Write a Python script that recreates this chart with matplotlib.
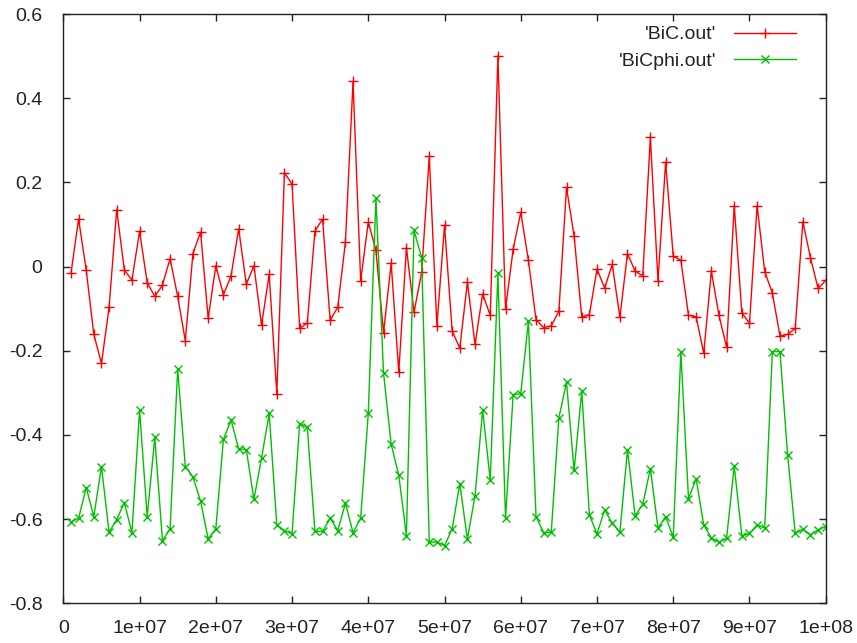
import matplotlib
matplotlib.use('Agg')
import matplotlib.pyplot as plt
import numpy as np

plt.rcParams['font.family'] = ['Liberation Sans', 'DejaVu Sans']

# one sample every 1e6, from 1e6 to 1e8
x = np.arange(1, 101) * 1e6

bic = [-0.016, 0.113, -0.008, -0.161, -0.230, -0.097, 0.135, -0.008, -0.032, 0.084,
       -0.038, -0.071, -0.044, 0.019, -0.071, -0.176, 0.031, 0.082, -0.123, 0.002,
       -0.067, -0.022, 0.090, -0.042, 0.002, -0.139, -0.018, -0.302, 0.223, 0.196,
       -0.147, -0.134, 0.084, 0.113, -0.128, -0.096, 0.058, 0.440, -0.034, 0.106,
       0.039, -0.157, 0.008, -0.251, 0.045, -0.108, -0.014, 0.262, -0.141, 0.098,
       -0.153, -0.194, -0.037, -0.185, -0.065, -0.116, 0.501, -0.101, 0.041, 0.129,
       0.015, -0.126, -0.145, -0.141, -0.106, 0.188, 0.072, -0.120, -0.114, -0.006,
       -0.051, 0.005, -0.120, 0.031, -0.011, -0.022, 0.307, -0.034, 0.248, 0.025,
       0.015, -0.116, -0.119, -0.206, -0.011, -0.116, -0.192, 0.145, -0.110, -0.135,
       0.145, -0.012, -0.063, -0.165, -0.161, -0.147, 0.106, 0.021, -0.052, -0.033]

bicphi = [-0.606, -0.598, -0.525, -0.594, -0.475, -0.631, -0.601, -0.561, -0.632, -0.341,
          -0.594, -0.406, -0.651, -0.623, -0.243, -0.475, -0.500, -0.557, -0.647, -0.623,
          -0.410, -0.365, -0.433, -0.435, -0.553, -0.455, -0.349, -0.614, -0.627, -0.635,
          -0.373, -0.382, -0.629, -0.629, -0.598, -0.627, -0.562, -0.632, -0.598, -0.349,
          0.164, -0.253, -0.422, -0.496, -0.639, 0.086, 0.021, -0.655, -0.654, -0.663,
          -0.623, -0.516, -0.647, -0.545, -0.341, -0.508, -0.016, -0.598, -0.304, -0.302,
          -0.130, -0.594, -0.632, -0.631, -0.359, -0.275, -0.484, -0.296, -0.590, -0.635,
          -0.578, -0.610, -0.631, -0.435, -0.592, -0.565, -0.480, -0.621, -0.594, -0.643,
          -0.204, -0.551, -0.504, -0.614, -0.645, -0.655, -0.645, -0.474, -0.640, -0.634,
          -0.614, -0.621, -0.202, -0.202, -0.447, -0.634, -0.624, -0.637, -0.625, -0.618]

xticks = np.arange(0, 11) * 1e7
xticklabels = ['0', '1e+07', '2e+07', '3e+07', '4e+07', '5e+07',
               '6e+07', '7e+07', '8e+07', '9e+07', '1e+08']
yticks = [0.6, 0.4, 0.2, 0.0, -0.2, -0.4, -0.6, -0.8]
yticklabels = ['0.6', '0.4', '0.2', '0', '-0.2', '-0.4', '-0.6', '-0.8']

fig = plt.figure(figsize=(8.57, 6.43), dpi=100)
ax = fig.add_axes([0.0739, 0.0617, 0.8896, 0.9165])

ax.plot(x, bic, color='#ff0000', lw=1, marker='+', ms=7, mew=1, label="'BiC.out'")
ax.plot(x, bicphi, color='#00c000', lw=1, marker='x', ms=5.5, mew=1, label="'BiCphi.out'")

ax.set_xlim(0, 1e8)
ax.set_ylim(-0.8, 0.6)
ax.set_xticks(xticks)
ax.set_xticklabels(xticklabels)
ax.set_yticks(yticks)
ax.set_yticklabels(yticklabels)
ax.tick_params(direction='in', top=True, right=True, length=4.7, width=1,
               labelsize=14, colors='#222222')
ax.tick_params(axis='x', pad=12)
ax.tick_params(axis='y', pad=15)
for s in ax.spines.values():
    s.set_color('#222222')
    s.set_linewidth(1)

# gnuplot style key: text right aligned, sample on the right
leg = ax.legend(loc='upper right', bbox_to_anchor=(0.974, 0.9966), frameon=False,
                markerfirst=False, numpoints=1, fontsize=14, borderpad=0,
                handlelength=3.2, handletextpad=0.9, labelspacing=0.44)
for t in leg.get_texts():
    t.set_color('#222222')

plt.savefig('out.png', dpi=100)
